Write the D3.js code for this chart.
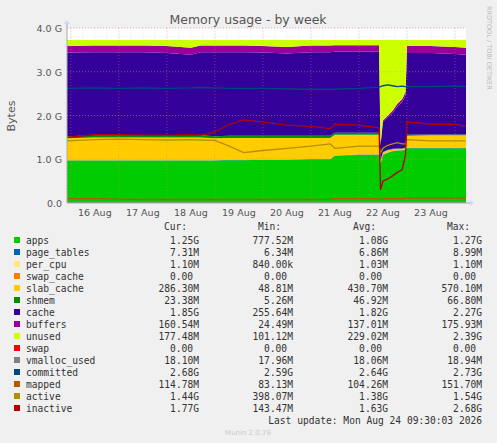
<!DOCTYPE html>
<html>
<head>
<meta charset="utf-8">
<script src="https://cdn.jsdelivr.net/npm/d3@7"></script>
<style>
  html, body { margin: 0; padding: 0; background: #f0f0f0; }
  svg text { font-family: "DejaVu Sans", sans-serif; }
  .mono { font-family: "DejaVu Sans Mono", monospace; font-size: 9.6px; fill: #333; }
</style>
</head>
<body>
<svg id="chart" width="497" height="443"></svg>
<script>
/* ── Data (G bytes, day-of-August) ─────────────── */

const days = [15.92, 16.5, 17.0, 17.5, 18.0, 18.5, 18.7, 19.0, 19.3, 19.6, 20.0, 20.5, 21.0, 21.4,
  21.5, 22.0, 22.42, 22.45, 22.5, 22.6, 22.7, 22.8, 22.9, 22.97, 23.0, 23.5, 24.0, 24.23];

const apps = [0.97, 0.97, 0.97, 0.97, 0.97, 0.97, 0.97, 0.97, 0.98, 0.98, 0.99, 0.99, 1.0, 1.0,
  1.08, 1.10, 1.10, 0.90, 1.10, 1.15, 1.18, 1.20, 1.20, 1.22, 1.25, 1.25, 1.25, 1.25];
const pageTables = [0.007, 0.007, 0.007, 0.007, 0.007, 0.007, 0.007, 0.007, 0.007, 0.007, 0.007, 0.007, 0.007, 0.007,
  0.007, 0.007, 0.007, 0.007, 0.007, 0.007, 0.007, 0.007, 0.007, 0.007, 0.007, 0.007, 0.007, 0.007];
const perCpu = [0.001, 0.001, 0.001, 0.001, 0.001, 0.001, 0.001, 0.001, 0.001, 0.001, 0.001, 0.001, 0.001, 0.001,
  0.001, 0.001, 0.001, 0.001, 0.001, 0.001, 0.001, 0.001, 0.001, 0.001, 0.001, 0.001, 0.001, 0.001];
const swapCache = [0, 0, 0, 0, 0, 0, 0, 0, 0, 0, 0, 0, 0, 0, 0, 0, 0, 0, 0, 0, 0, 0, 0, 0, 0, 0, 0, 0];
const slabCache = [0.50, 0.52, 0.52, 0.52, 0.52, 0.52, 0.52, 0.50, 0.50, 0.50, 0.49, 0.49, 0.48, 0.48,
  0.47, 0.45, 0.45, 0.05, 0.05, 0.05, 0.04, 0.03, 0.03, 0.03, 0.28, 0.29, 0.29, 0.29];
const shmem = [0.05, 0.05, 0.05, 0.05, 0.05, 0.05, 0.05, 0.05, 0.05, 0.05, 0.05, 0.05, 0.05, 0.05,
  0.05, 0.05, 0.05, 0.01, 0.01, 0.01, 0.01, 0.01, 0.01, 0.01, 0.02, 0.02, 0.02, 0.02];
const cache = [1.91, 1.90, 1.90, 1.90, 1.88, 1.84, 1.90, 1.92, 1.91, 1.91, 1.90, 1.88, 1.91, 1.91,
  1.85, 1.85, 1.85, 0.34, 0.69, 0.74, 0.82, 0.96, 1.06, 1.19, 1.87, 1.86, 1.84, 1.82];
const buffers = [0.15, 0.15, 0.15, 0.15, 0.16, 0.16, 0.15, 0.15, 0.15, 0.15, 0.15, 0.15, 0.15, 0.15,
  0.15, 0.15, 0.15, 0.03, 0.03, 0.04, 0.05, 0.06, 0.07, 0.08, 0.16, 0.16, 0.16, 0.16];
const unused = [0.14, 0.13, 0.13, 0.13, 0.14, 0.18, 0.13, 0.13, 0.13, 0.13, 0.14, 0.16, 0.13, 0.13,
  0.12, 0.12, 0.12, 2.39, 1.84, 1.73, 1.62, 1.46, 1.35, 1.19, 0.14, 0.14, 0.16, 0.18];
const swap = [0, 0, 0, 0, 0, 0, 0, 0, 0, 0, 0, 0, 0, 0, 0, 0, 0, 0, 0, 0, 0, 0, 0, 0, 0, 0, 0, 0];

const vmallocUsed = [0.018, 0.018, 0.018, 0.018, 0.018, 0.018, 0.018, 0.018, 0.018, 0.018, 0.018, 0.018, 0.018, 0.018,
  0.018, 0.018, 0.018, 0.018, 0.018, 0.018, 0.018, 0.018, 0.018, 0.018, 0.018, 0.018, 0.018, 0.018];
const committed = [2.62, 2.63, 2.62, 2.63, 2.62, 2.63, 2.64, 2.63, 2.62, 2.62, 2.62, 2.61, 2.60, 2.60,
  2.60, 2.62, 2.65, 2.66, 2.68, 2.70, 2.68, 2.66, 2.67, 2.66, 2.66, 2.66, 2.67, 2.66];
const mapped = [0.10, 0.10, 0.09, 0.08, 0.08, 0.08, 0.08, 0.08, 0.08, 0.08, 0.08, 0.08, 0.08, 0.09,
  0.10, 0.10, 0.10, 0.09, 0.09, 0.10, 0.10, 0.10, 0.10, 0.10, 0.11, 0.11, 0.11, 0.11];
const active = [1.42, 1.45, 1.46, 1.45, 1.44, 1.45, 1.44, 1.43, 1.30, 1.15, 1.20, 1.25, 1.30, 1.35,
  1.25, 1.30, 1.30, 1.15, 1.25, 1.32, 1.35, 1.38, 1.35, 1.35, 1.45, 1.42, 1.42, 1.42];
const inactive = [1.50, 1.56, 1.56, 1.55, 1.55, 1.56, 1.55, 1.62, 1.80, 1.90, 1.85, 1.78, 1.75, 1.70,
  1.80, 1.78, 1.72, 0.30, 0.50, 0.55, 0.62, 0.70, 0.76, 1.10, 1.85, 1.80, 1.80, 1.75];

const yTicks = [0, 1, 2, 3, 4];
const yTickLabels = ["0.0", "1.0 G", "2.0 G", "3.0 G", "4.0 G"];
const dayTicks = [16, 17, 18, 19, 20, 21, 22, 23];

/* ── Legend table ──────────────────────────────── */

const legendNames = ["apps", "page_tables", "per_cpu", "swap_cache", "slab_cache", "shmem", "cache",
  "buffers", "unused", "swap", "vmalloc_used", "committed", "mapped", "active", "inactive"];
const legendColors = ["#00cc00", "#0066b3", "#ffe680", "#ff8000", "#ffcc00", "#008f00", "#330099",
  "#990099", "#ccff00", "#ff0000", "#808080", "#00487d", "#b35a00", "#b38f00", "#b30000"];
const curVals = ["1.25G", "7.31M", "1.10M", "0.00", "286.30M", "23.38M", "1.85G", "160.54M", "177.48M",
  "0.00", "18.10M", "2.68G", "114.78M", "1.44G", "1.77G"];
const minVals = ["777.52M", "6.34M", "840.00k", "0.00", "48.81M", "5.26M", "255.64M", "24.49M", "101.12M",
  "0.00", "17.96M", "2.59G", "83.13M", "398.07M", "143.47M"];
const avgVals = ["1.08G", "6.86M", "1.03M", "0.00", "430.70M", "46.92M", "1.82G", "137.01M", "229.02M",
  "0.00", "18.06M", "2.64G", "104.26M", "1.38G", "1.63G"];
const maxVals = ["1.27G", "8.99M", "1.10M", "0.00", "570.10M", "66.80M", "2.27G", "175.93M", "2.39G",
  "0.00", "18.94M", "2.73G", "151.70M", "1.54G", "2.68G"];

/* ── Setup ─────────────────────────────────────── */

const svg = d3.select("#chart");
const plot = { left: 67, right: 466, top: 28, bottom: 203 };
const toDate = d => new Date(2026, 7, 1 + Math.floor(d), 0, 0, 0, (d % 1) * 86400000);

const x = d3.scaleTime()
  .domain([toDate(days[0]), toDate(days[days.length - 1])])
  .range([plot.left, plot.right]);
const y = d3.scaleLinear().domain([0, 4]).range([plot.bottom, plot.top]);

svg.append("rect").attr("x", plot.left).attr("y", plot.top)
  .attr("width", plot.right - plot.left).attr("height", plot.bottom - plot.top).attr("fill", "#fff");

/* minor grid */
const g = svg.append("g");
d3.range(0.2, 4.01, 0.2).forEach(v => {
  g.append("line").attr("x1", plot.left).attr("x2", plot.right).attr("y1", y(v)).attr("y2", y(v))
    .attr("stroke", "#ddd").attr("stroke-dasharray", "1,1").attr("stroke-width", 0.6);
});
d3.timeHour.every(6).range(x.domain()[0], x.domain()[1]).forEach(t => {
  g.append("line").attr("x1", x(t)).attr("x2", x(t)).attr("y1", plot.top).attr("y2", plot.bottom)
    .attr("stroke", "#ddd").attr("stroke-dasharray", "1,1").attr("stroke-width", 0.6);
});

/* ── Stacked areas ─────────────────────────────── */

const stackSeries = [apps, pageTables, perCpu, swapCache, slabCache, shmem, cache, buffers, unused, swap];
const rows = days.map((d, i) => {
  const r = { t: toDate(d) };
  stackSeries.forEach((s, k) => r["s" + k] = s[i]);
  return r;
});
const stack = d3.stack().keys(stackSeries.map((s, k) => "s" + k));
const layers = stack(rows);
const area = d3.area().x(d => x(d.data.t)).y0(d => y(d[0])).y1(d => y(d[1]));
svg.append("g").selectAll("path").data(layers).join("path")
  .attr("d", area).attr("fill", (d, i) => legendColors[i]);

/* major grid on top */
yTicks.slice(1).forEach(v => {
  svg.append("line").attr("x1", plot.left).attr("x2", plot.right).attr("y1", y(v)).attr("y2", y(v))
    .attr("stroke", "#f08080").attr("stroke-dasharray", "1,2").attr("stroke-width", 0.7).attr("opacity", 0.8);
});
d3.timeDay.range(x.domain()[0], x.domain()[1]).forEach(t => {
  svg.append("line").attr("x1", x(t)).attr("x2", x(t)).attr("y1", plot.top).attr("y2", plot.bottom)
    .attr("stroke", "#f08080").attr("stroke-dasharray", "1,2").attr("stroke-width", 0.7).attr("opacity", 0.6);
});

/* ── Lines ─────────────────────────────────────── */

const lineSeries = [vmallocUsed, committed, mapped, active, inactive];
const line = d3.line().x((d, i) => x(toDate(days[i]))).y(d => y(d));
lineSeries.forEach((s, k) => {
  svg.append("path").attr("d", line(s)).attr("fill", "none")
    .attr("stroke", legendColors[10 + k]).attr("stroke-width", 1.3);
});

/* ── Axes ──────────────────────────────────────── */

svg.append("line").attr("x1", plot.left).attr("x2", plot.right + 6).attr("y1", plot.bottom).attr("y2", plot.bottom)
  .attr("stroke", "#aaa");
svg.append("line").attr("x1", plot.left).attr("x2", plot.left).attr("y1", plot.bottom).attr("y2", plot.top - 6)
  .attr("stroke", "#aaa");
svg.append("path").attr("d", `M${plot.right + 4},${plot.bottom - 3}L${plot.right + 8},${plot.bottom}L${plot.right + 4},${plot.bottom + 3}Z`)
  .attr("fill", "#ccd8ff");
svg.append("path").attr("d", `M${plot.left - 3},${plot.top - 4}L${plot.left},${plot.top - 8}L${plot.left + 3},${plot.top - 4}Z`)
  .attr("fill", "#ccd8ff");

yTicks.forEach((v, i) => {
  svg.append("text").attr("x", 62).attr("y", y(v) + 4).attr("text-anchor", "end")
    .attr("font-size", 9.5).attr("fill", "#555").text(yTickLabels[i]);
});
dayTicks.forEach(d => {
  svg.append("text").attr("x", x(toDate(d + 0.5))).attr("y", 216).attr("text-anchor", "middle")
    .attr("font-size", 9.5).attr("fill", "#555").text(d + " Aug");
});

svg.append("text").attr("x", 248).attr("y", 24).attr("text-anchor", "middle")
  .attr("font-size", 12.5).attr("fill", "#555").text("Memory usage - by week");
svg.append("text").attr("transform", "translate(15,116) rotate(-90)").attr("text-anchor", "middle")
  .attr("font-size", 11).attr("fill", "#555").text("Bytes");
svg.append("text").attr("transform", "translate(487,6) rotate(90)").attr("text-anchor", "start")
  .attr("font-size", 6.5).attr("fill", "#bbb").text("RRDTOOL / TOBI OETIKER");

/* ── Legend ────────────────────────────────────── */

const colX = [199, 293, 388, 482];
["Cur:", "Min:", "Avg:", "Max:"].forEach((h, i) => {
  svg.append("text").attr("class", "mono").attr("x", colX[i] - 12).attr("y", 230)
    .attr("text-anchor", "end").text(h);
});
legendNames.forEach((name, i) => {
  const yy = 244 + i * 12;
  svg.append("rect").attr("x", 14).attr("y", yy - 7).attr("width", 6).attr("height", 6).attr("fill", legendColors[i]);
  svg.append("text").attr("class", "mono").attr("x", 26).attr("y", yy).text(name);
  [curVals, minVals, avgVals, maxVals].forEach((col, c) => {
    const v = col[i];
    svg.append("text").attr("class", "mono").attr("x", colX[c] - (v === "0.00" ? 6 : 0)).attr("y", yy)
      .attr("text-anchor", "end").text(v);
  });
});
svg.append("text").attr("class", "mono").attr("x", 482).attr("y", 424).attr("text-anchor", "end")
  .text("Last update: Mon Aug 24 09:30:03 2026");
svg.append("text").attr("x", 248).attr("y", 435).attr("text-anchor", "middle")
  .attr("font-size", 7).attr("fill", "#ccc").text("Munin 2.0.76");
</script>
</body>
</html>
